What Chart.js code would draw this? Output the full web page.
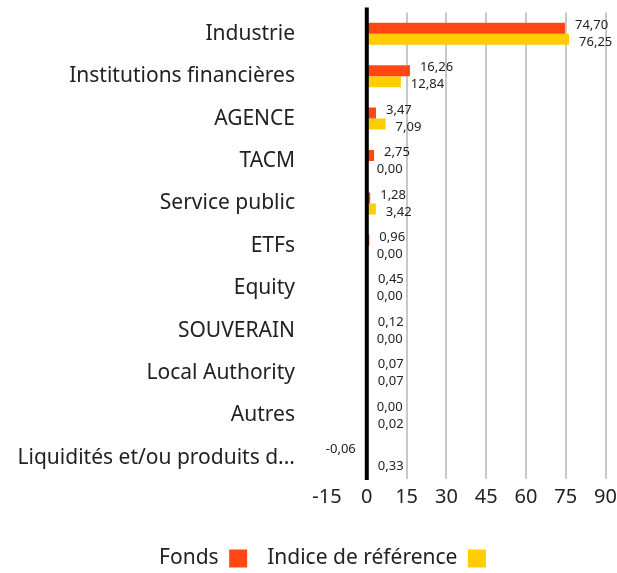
<!DOCTYPE html>
<html>
<head>
<meta charset="utf-8">
<script src="https://cdn.jsdelivr.net/npm/chart.js@4/dist/chart.umd.min.js"></script>
<style>
  html, body { margin: 0; padding: 0; background: #fff; }
  #wrap { width: 617px; height: 573px; position: relative; }
</style>
</head>
<body>
<div id="wrap"><canvas id="chart"></canvas></div>
<script>
// Données du graphique
const categories = [
  'Industrie',
  'Institutions financières',
  'AGENCE',
  'TACM',
  'Service public',
  'ETFs',
  'Equity',
  'SOUVERAIN',
  'Local Authority',
  'Autres',
  'Liquidités et/ou produits d...'
];
const fondsValues = [74.70, 16.26, 3.47, 2.75, 1.28, 0.96, 0.45, 0.12, 0.07, 0.00, -0.06];
const indiceValues = [76.25, 12.84, 7.09, 0.00, 3.42, 0.00, 0.00, 0.00, 0.07, 0.02, 0.33];
const xTicks = [-15, 0, 15, 30, 45, 60, 75, 90];

const FONT = "'Noto Sans', sans-serif";
const TEXT = '#222';

// Étiquettes de valeurs à côté des barres + ligne du zéro
const valueLabels = {
  id: 'valueLabels',
  afterLayout(chart) {
    // légende un peu décalée vers la droite, comme l'original
    chart.legend.left += 12;
    chart.legend.right += 12;
  },
  afterDatasetsDraw(chart) {
    const ctx = chart.ctx;
    ctx.save();
    ctx.font = '13px ' + FONT;
    ctx.fillStyle = TEXT;
    ctx.textBaseline = 'middle';
    chart.data.datasets.forEach((ds, di) => {
      const meta = chart.getDatasetMeta(di);
      meta.data.forEach((bar, i) => {
        const v = ds.data[i];
        const txt = v.toFixed(2).replace('.', ',');
        const y = bar.y + (di === 0 ? -3 : 3);
        if (v < 0) {
          ctx.textAlign = 'right';
          ctx.fillText(txt, Math.min(bar.x, bar.base) - 10, y);
        } else {
          ctx.textAlign = 'left';
          ctx.fillText(txt, Math.max(bar.x, bar.base) + 10, y);
        }
      });
    });
    const x0 = chart.scales.x.getPixelForValue(0);
    ctx.strokeStyle = '#000';
    ctx.lineWidth = 4;
    ctx.beginPath();
    ctx.moveTo(x0, chart.chartArea.top - 5);
    ctx.lineTo(x0, chart.chartArea.bottom + 1);
    ctx.stroke();
    ctx.restore();
  }
};

new Chart(document.getElementById('chart'), {
  type: 'bar',
  data: {
    labels: categories,
    datasets: [
      { label: 'Fonds', data: fondsValues, backgroundColor: '#FF4713' },
      { label: 'Indice de référence', data: indiceValues, backgroundColor: '#FFCD00' }
    ]
  },
  options: {
    indexAxis: 'y',
    responsive: true,
    maintainAspectRatio: false,
    animation: false,
    datasets: { bar: { categoryPercentage: 0.52, barPercentage: 1 } },
    layout: { padding: { top: 0, right: 0, left: 4, bottom: 0 } },
    scales: {
      x: {
        min: -15,
        max: 90,
        afterBuildTicks(scale) { scale.ticks = xTicks.map(v => ({ value: v })); },
        afterFit(scale) { scale.height = 49; },
        border: { display: false },
        grid: {
          drawTicks: true,
          tickLength: 6,
          tickColor: 'transparent',
          lineWidth: 2,
          color: c => (c.tick && (c.tick.value === 0 || c.tick.value === -15)) ? 'transparent' : '#c8c8c8'
        },
        ticks: { color: TEXT, font: { family: FONT, size: 20 }, padding: 0 }
      },
      y: {
        afterFit(scale) { scale.width = 323; },
        border: { display: false },
        grid: { display: false, drawTicks: true, tickLength: 32 },
        ticks: { color: TEXT, font: { family: FONT, size: 21 }, padding: 0 }
      }
    },
    plugins: {
      legend: {
        position: 'bottom',
        rtl: true,
        reverse: true,
        maxHeight: 45,
        labels: {
          color: TEXT,
          font: { family: FONT, size: 21 },
          boxWidth: 18,
          boxHeight: 18,
          padding: 20
        }
      },
      tooltip: { enabled: false }
    }
  },
  plugins: [valueLabels]
});
</script>
</body>
</html>
